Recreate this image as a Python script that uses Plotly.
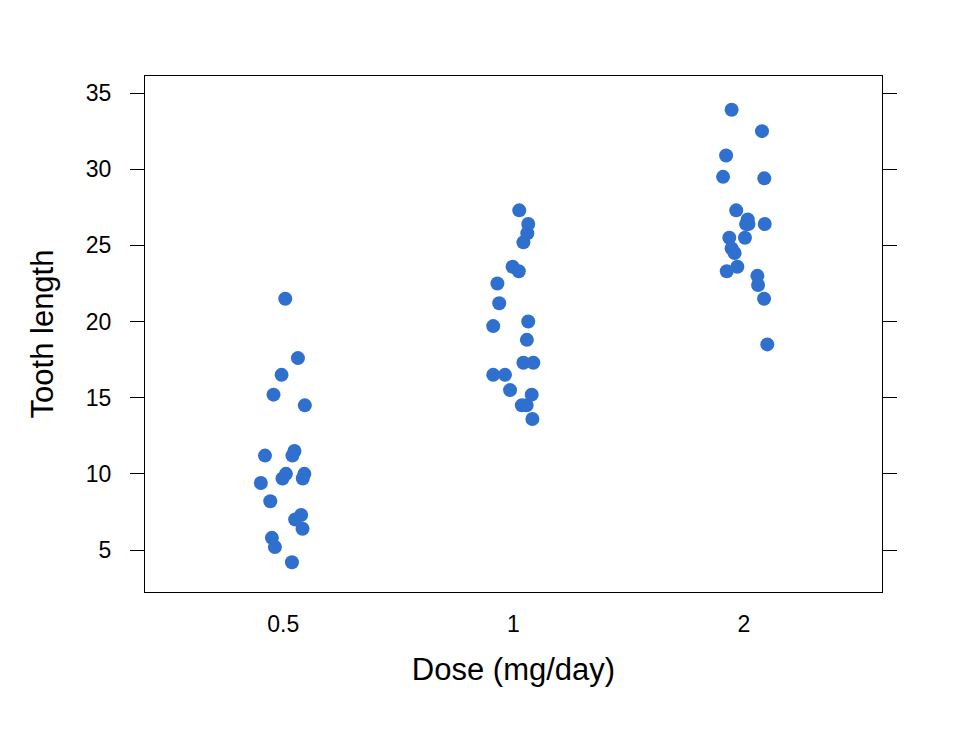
import plotly.graph_objects as go

# Categories (dose, mg/day) and tick labels
dose_labels = ["0.5", "1", "2"]
dose_index = [0, 1, 2]

# Tooth length per dose group (ToothGrowth)
len_05 = [21.5, 17.6, 16.5, 15.2, 14.5, 11.2, 11.5, 11.2, 10.0, 9.7,
          10.0, 9.7, 9.4, 8.2, 7.3, 7.0, 6.4, 5.8, 5.2, 4.2]
len_1 = [27.3, 26.4, 25.8, 25.2, 23.6, 23.3, 22.5, 21.2, 19.7, 20.0,
         18.8, 17.3, 17.3, 16.5, 16.5, 15.5, 15.2, 14.5, 14.5, 13.6]
len_2 = [33.9, 32.5, 30.9, 29.5, 29.4, 27.3, 26.7, 26.4, 26.4, 26.4,
         25.5, 25.5, 24.8, 24.5, 23.6, 23.3, 23.0, 22.4, 21.5, 18.5]

# Horizontal jitter (in category units)
jit_05 = [0.009, 0.064, -0.007, -0.042, 0.094, -0.079, 0.049, 0.040, 0.012, -0.003,
          0.092, 0.085, -0.097, -0.056, 0.078, 0.052, 0.084, -0.049, -0.036, 0.038]
jit_1 = [0.025, 0.064, 0.060, 0.043, -0.004, 0.023, -0.070, -0.062, -0.088, 0.064,
         0.058, 0.043, 0.086, -0.088, -0.037, -0.015, 0.079, 0.036, 0.057, 0.082]
jit_2 = [-0.053, 0.079, -0.077, -0.090, 0.089, -0.033, 0.017, 0.010, 0.020, 0.091,
         0.005, -0.063, -0.053, -0.040, -0.028, -0.074, 0.059, 0.062, 0.088, 0.102]

groups = [(len_05, jit_05), (len_1, jit_1), (len_2, jit_2)]
xs, ys = [], []
for idx, (lens, jits) in zip(dose_index, groups):
    for v, j in zip(lens, jits):
        xs.append(idx + j)
        ys.append(v)

fig = go.Figure(go.Scatter(
    x=xs, y=ys, mode="markers",
    marker=dict(size=14, color="#2F70CE", line=dict(width=0)),
    hoverinfo="skip",
))

font_family = "Liberation Sans, Arial, Helvetica, sans-serif"
fig.update_layout(
    width=960, height=729,
    margin=dict(l=145, r=78, t=76, b=137),
    paper_bgcolor="white", plot_bgcolor="white",
    showlegend=False,
    font=dict(family=font_family, color="black", size=20),
    xaxis=dict(
        range=[-0.6, 2.6],
        tickvals=dose_index, ticktext=dose_labels,
        ticks="", showgrid=False, zeroline=False,
        showline=True, linecolor="black", linewidth=1.3, mirror=True,
        tickfont=dict(size=23),
        ticklabelstandoff=11,
        title=dict(text="Dose (mg/day)", font=dict(size=31), standoff=22),
    ),
    yaxis=dict(
        range=[2.245, 36.12],
        tickvals=[5, 10, 15, 20, 25, 30, 35],
        ticks="outside", ticklen=14, tickwidth=1.3, tickcolor="black",
        showgrid=False, zeroline=False,
        showline=True, linecolor="black", linewidth=1.3, mirror="ticks",
        tickfont=dict(size=23),
        ticklabelstandoff=14,
        title=dict(text="Tooth length", font=dict(size=31), standoff=22),
    ),
)

fig.write_html("out.html")
